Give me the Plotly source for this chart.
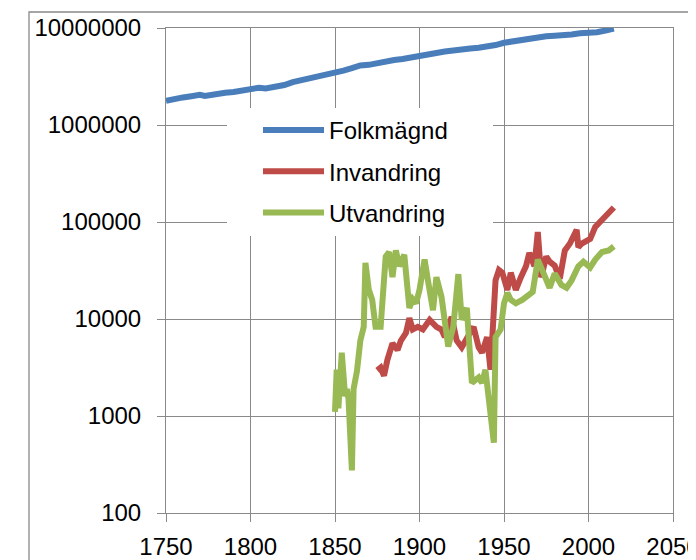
import plotly.graph_objects as go

# Folkmängd (population)
pop_years = [1750, 1755, 1760, 1765, 1770, 1773, 1775, 1780, 1785, 1790, 1795, 1800, 1805, 1809,
             1815, 1820, 1825, 1830, 1835, 1840, 1845, 1850, 1855, 1860, 1865, 1870, 1875, 1880,
             1885, 1890, 1895, 1900, 1905, 1910, 1915, 1920, 1925, 1930, 1935, 1940, 1945, 1950,
             1955, 1960, 1965, 1970, 1975, 1980, 1985, 1990, 1995, 2000, 2005, 2010, 2015]
pop_values = [1781000, 1878000, 1925000, 1980000, 2043000, 1990000, 2021000, 2118000, 2154000,
              2188000, 2282000, 2347000, 2425000, 2378000, 2465000, 2585000, 2771000, 2888000,
              3025000, 3139000, 3317000, 3471000, 3641000, 3860000, 4114000, 4169000, 4383000,
              4566000, 4683000, 4785000, 4919000, 5136000, 5295000, 5522000, 5713000, 5905000,
              6054000, 6142000, 6251000, 6371000, 6674000, 7042000, 7290000, 7498000, 7773000,
              8081000, 8208000, 8318000, 8358000, 8591000, 8837000, 8883000, 9048000, 9415000,
              9851000]

# Invandring (immigration)
inv_years = [1875, 1877, 1879, 1881, 1884, 1887, 1889, 1892, 1894, 1896, 1899, 1902, 1906, 1910,
             1913, 1915, 1919, 1922, 1925, 1928, 1932, 1935, 1937, 1940, 1942, 1945, 1947, 1949,
             1952, 1954, 1957, 1960, 1963, 1965, 1968, 1970, 1972, 1975, 1977, 1980, 1983, 1986,
             1989, 1993, 1994, 1996, 1999, 2001, 2004, 2008, 2013, 2015]
inv_values = [2950, 3150, 2600, 3800, 5600, 4800, 6000, 7200, 10200, 7800, 8300, 7800, 9800, 8300,
              7800, 6500, 10500, 6000, 5100, 6500, 8300, 5100, 4500, 6500, 3000, 25000, 32000, 30000,
              20000, 30000, 20000, 27000, 35000, 48000, 35000, 79000, 27000, 44000, 39000, 35500,
              26000, 51000, 60000, 83000, 55000, 60000, 65000, 67000, 89000, 105000, 132000, 141000]

# Utvandring (emigration)
utv_years = [1850, 1851, 1852, 1854, 1856, 1857, 1858, 1860, 1861, 1862, 1863, 1865, 1867, 1868,
             1870, 1872, 1874, 1877, 1880, 1882, 1884, 1886, 1888, 1891, 1894, 1896, 1898, 1900,
             1903, 1905, 1908, 1910, 1913, 1917, 1920, 1923, 1925, 1928, 1931, 1935, 1937, 1939,
             1942, 1944, 1945, 1948, 1950, 1952, 1954, 1957, 1961, 1964, 1967, 1970, 1974, 1977,
             1980, 1984, 1987, 1990, 1994, 1997, 2001, 2004, 2008, 2012, 2015]
utv_values = [1100, 3000, 1200, 4500, 1600, 1900, 1500, 275, 1900, 2400, 2900, 6000, 8300, 38000,
              20000, 15800, 8300, 8300, 44000, 49000, 27000, 51000, 35000, 46000, 13000, 16000,
              14500, 20000, 41000, 25000, 12300, 27000, 17000, 5200, 8300, 29000, 9800, 13000, 2200,
              2500, 2200, 3000, 980, 530, 6500, 7800, 14500, 18600, 15800, 14500, 15800, 17000,
              19000, 41000, 27000, 21000, 29500, 22400, 21000, 25000, 35000, 39000, 34000, 41000,
              49000, 51000, 56000]

y_ticks = [100, 1000, 10000, 100000, 1000000, 10000000]
y_labels = [str(v) for v in y_ticks]

GRID = "#898989"
FONT = "Liberation Sans"
LW = 6

fig = go.Figure()
fig.add_trace(go.Scatter(x=pop_years, y=pop_values, mode="lines", name="Folkmägnd",
                         line=dict(color="#4A7EBB", width=LW), legendgroup="a"))
fig.add_trace(go.Scatter(x=inv_years, y=inv_values, mode="lines", name="Invandring",
                         line=dict(color="#BE4B48", width=LW), legendgroup="b"))
fig.add_trace(go.Scatter(x=utv_years, y=utv_values, mode="lines", name="Utvandring",
                         line=dict(color="#98B954", width=LW), legendgroup="c"))

# page body has an 8px margin; positions below are given in screen pixels
OFF = 8
W, H = 696, 560
SL, ST, SR, SB = 166, 28, 673, 513   # plot area on screen
L, T = SL - OFF, ST - OFF
R, B = W - (SR - OFF), H - (SB - OFF)
pw, ph = W - L - R, H - T - B

def px_x(p):
    return (p - OFF - L) / pw

def px_y(p):
    return (H - B - (p - OFF)) / ph

fig.update_layout(
    width=W, height=H,
    margin=dict(l=L, r=R, t=T, b=B, autoexpand=False),
    paper_bgcolor="white", plot_bgcolor="white",
    font=dict(family=FONT, size=24, color="black"),
    showlegend=True,
    legend=dict(x=px_x(258), y=px_y(108), xanchor="left", yanchor="top",
                bgcolor="rgba(0,0,0,0)", font=dict(size=24, family=FONT),
                tracegroupgap=7, itemwidth=61),
    xaxis=dict(range=[1750, 2050], dtick=50, tick0=1750, showgrid=True, gridcolor=GRID,
               gridwidth=1, showline=True, linecolor=GRID, mirror=True, ticks="outside",
               ticklen=8, tickcolor=GRID, zeroline=False, ticklabelstandoff=4,
               automargin=False, ticklabeloverflow="allow"),
    yaxis=dict(type="log", range=[2, 7], tickvals=y_ticks, ticktext=y_labels, showgrid=True,
               gridcolor=GRID, gridwidth=1, showline=True, linecolor=GRID, mirror=True,
               ticks="outside", ticklen=8, tickcolor=GRID, zeroline=False,
               ticklabelstandoff=11, automargin=False, ticklabeloverflow="allow"),
    shapes=[
        dict(type="rect", xref="paper", yref="paper", x0=px_x(227), x1=px_x(493),
             y0=px_y(236), y1=px_y(108), fillcolor="white", line=dict(width=0), layer="above"),
        dict(type="rect", xref="paper", yref="paper", x0=px_x(29), x1=px_x(720),
             y0=px_y(600), y1=px_y(12), fillcolor="rgba(0,0,0,0)",
             line=dict(color=GRID, width=1.3), layer="above"),
    ],
)

fig.write_html("out.html")
